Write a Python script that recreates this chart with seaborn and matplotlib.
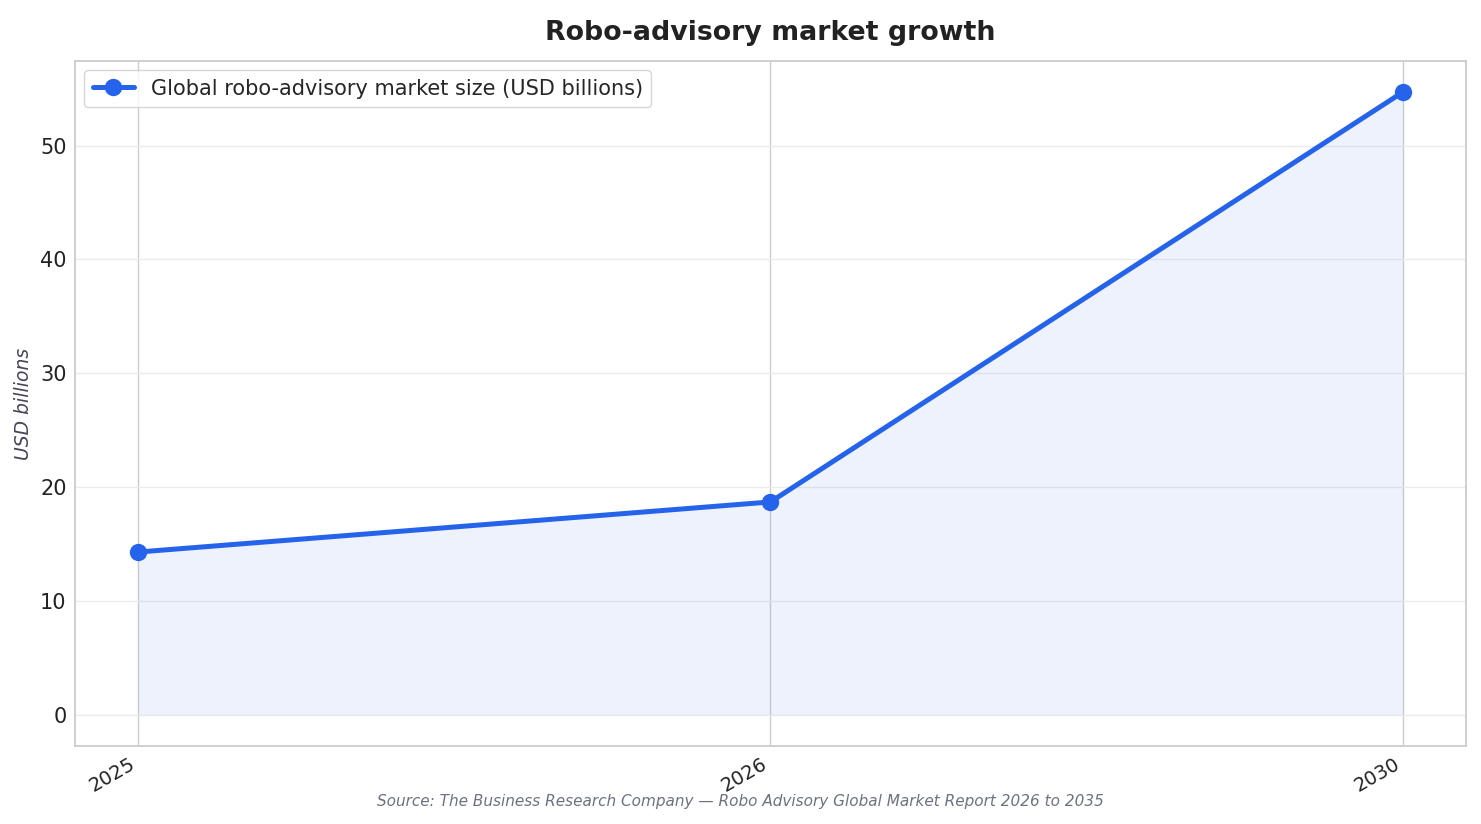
import matplotlib
matplotlib.use("Agg")
import matplotlib.pyplot as plt
import seaborn as sns
import pandas as pd

years = ["2025", "2026", "2030"]
market_size = [14.3, 18.7, 54.7]
series_label = "Global robo-advisory market size (USD billions)"

df = pd.DataFrame({"year": years, "value": market_size})

sns.set_style("white")
plt.rcParams["font.family"] = ["DejaVu Sans"]

fig, ax = plt.subplots(figsize=(14.81, 8.24), dpi=100)
fig.subplots_adjust(left=0.0506, right=0.9899, top=0.926, bottom=0.0947)

color = "#2563eb"
sns.lineplot(data=df, x="year", y="value", ax=ax, color=color, linewidth=3.6,
             marker="o", markersize=12.5, markeredgewidth=0, label=series_label,
             sort=False, zorder=3)
xs = list(range(len(years)))
ax.fill_between(xs, market_size, 0, color=color, alpha=0.08, linewidth=0, zorder=1)

ax.grid(axis="y", color="#ebebeb", linewidth=1.0, zorder=0)
ax.grid(axis="x", color="#cccccc", linewidth=1.0, zorder=0)
ax.set_axisbelow(True)
for s in ax.spines.values():
    s.set_color("#cccccc")
    s.set_linewidth(1.3)

ax.set_title("Robo-advisory market growth", fontsize=19.3, fontweight="bold",
             color="#222222", pad=15)
ax.set_xlabel("")
ax.set_ylabel("USD billions", fontsize=13.5, fontstyle="italic", color="#444455",
              labelpad=5)
ax.tick_params(axis="y", labelsize=15, colors="#222222", length=0, pad=6)
ax.tick_params(axis="x", labelsize=14, colors="#222222", length=0, pad=6)
plt.setp(ax.get_xticklabels(), rotation=30, ha="right")

leg = ax.legend(loc="upper left", fontsize=15, frameon=True, borderaxespad=0.45)
leg.get_frame().set_edgecolor("#cccccc")

fig.text(0.5, 0.022, "Source: The Business Research Company \u2014 Robo Advisory Global Market Report 2026 to 2035",
         ha="center", fontsize=11, fontstyle="italic", color="#6b7280")

fig.savefig("out.png", dpi=100)
